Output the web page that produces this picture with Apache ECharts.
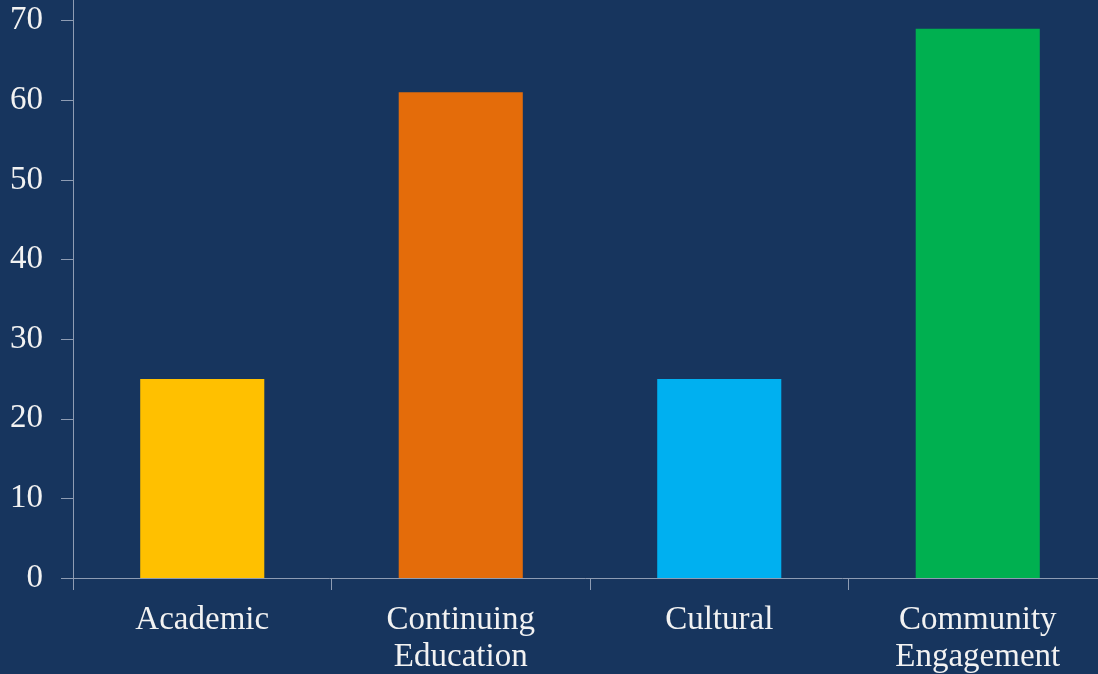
<!DOCTYPE html>
<html><head><meta charset="utf-8">
<script src="https://cdn.jsdelivr.net/npm/echarts@6/dist/echarts.min.js"></script>
<style>html,body{margin:0;padding:0;background:#17355e;}#c{width:1098px;height:674px;}</style>
</head><body><div id="c"></div>
<script>
const categories = ['Academic', 'Continuing\nEducation', 'Cultural', 'Community\nEngagement'];
const values = [25, 61, 25, 69];
const barColors = ['#FFC000', '#E46C0A', '#00B0F0', '#00B050'];
const yTicks = [0, 10, 20, 30, 40, 50, 60, 70];

const chart = echarts.init(document.getElementById('c'));
const font = '"Liberation Serif", "DejaVu Serif", serif';
chart.setOption({
  backgroundColor: '#17355e',
  animation: false,
  grid: { left: 73, width: 1034, top: 0, bottom: 96, containLabel: false, outerBoundsMode: 'none' },
  xAxis: {
    type: 'category',
    data: categories,
    axisLine: { lineStyle: { color: '#8e9cb3', width: 1 } },
    axisTick: { show: true, length: 12, lineStyle: { color: '#8e9cb3' } },
    axisLabel: { color: '#f2f2f2', fontFamily: font, fontSize: 33, lineHeight: 37, margin: 24 }
  },
  yAxis: {
    type: 'value',
    min: 0,
    max: 72.6,
    splitLine: { show: false },
    axisLine: { show: true, lineStyle: { color: '#8e9cb3', width: 1 } },
    axisTick: { show: true, length: 12, customValues: yTicks, lineStyle: { color: '#8e9cb3' } },
    axisLabel: { color: '#f2f2f2', fontFamily: font, fontSize: 33, margin: 30, customValues: yTicks }
  },
  series: [{
    type: 'bar',
    barWidth: '48%',
    data: values.map((v, i) => ({ value: v, itemStyle: { color: barColors[i] } }))
  }]
});
</script></body></html>
